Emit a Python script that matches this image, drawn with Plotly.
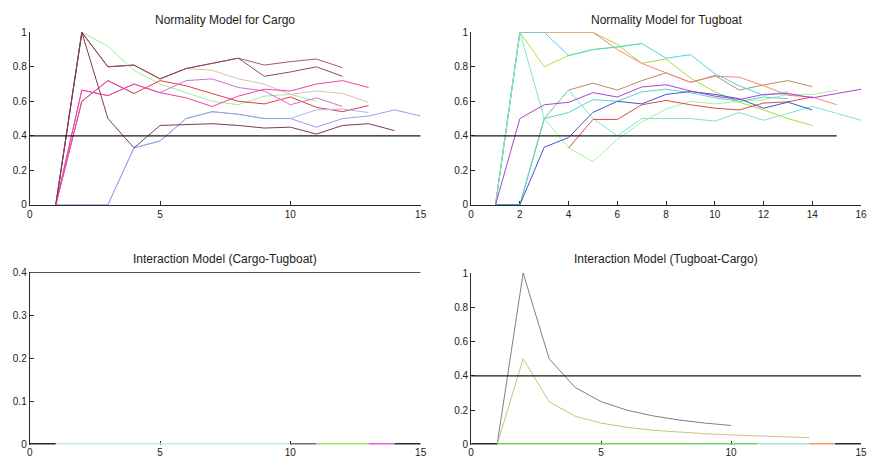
import plotly.graph_objects as go

# ---------------- data ----------------
titles = ["Normality Model for Cargo", "Normality Model for Tugboat",
          "Interaction Model (Cargo-Tugboat)", "Interaction Model (Tugboat-Cargo)"]
threshold = 0.4
threshold_x = [0, 15]

# Normality model for Cargo (x starts at 1)
cargo_green = [0, 1, 0.92, 0.78, 0.70, 0.65, 0.60, 0.58, 0.63, 0.64, 0.60]
cargo_plum = [0, 1, 0.50, 0.33, 0.46, 0.465, 0.47, 0.46, 0.445, 0.45, 0.41, 0.46, 0.47, 0.43]
cargo_lavender = [0, 0, 0, 0.33, 0.37, 0.50, 0.54, 0.525, 0.50, 0.50, 0.45, 0.50, 0.515, 0.55, 0.515]
cargo_skyblue = [0, 0, 0, 0.33, 0.37, 0.50, 0.54, 0.525, 0.50, 0.50, 0.55, 0.555, 0.535]
cargo_red = [0, 0.60, 0.72, 0.645, 0.72, 0.69, 0.645, 0.60, 0.585, 0.625, 0.565, 0.54, 0.575]
cargo_magenta = [0, 0.60, 0.72, 0.645]
cargo_tan = [0, 1, 0.80, 0.81, 0.73, 0.79, 0.78, 0.73, 0.70, 0.64, 0.66, 0.645, 0.595]
cargo_mauve = [0, 1, 0.80, 0.81, 0.73, 0.79, 0.82, 0.85, 0.81, 0.83, 0.845, 0.795]
cargo_brown = [0, 1, 0.80, 0.81, 0.73, 0.79, 0.82, 0.85, 0.745, 0.77, 0.80, 0.745]
cargo_hotpink = [0, 0.665, 0.633, 0.70, 0.65, 0.62, 0.57, 0.63, 0.67, 0.66, 0.70, 0.72, 0.68]
cargo_orchid = [0, 0.665, 0.633, 0.70, 0.65, 0.72, 0.73, 0.68, 0.66, 0.58, 0.62, 0.57]

# Normality model for Tugboat (x starts at 1 unless noted)
tug_tan = [0, 0, 0.50, 0.665, 0.705, 0.665, 0.72, 0.765, 0.71, 0.75, 0.665, 0.695, 0.72, 0.685]
tug_yellowgreen2 = [0, 1, 0.80, 0.866, 0.90, 0.915, 0.935]
tug_yellowgreen = [0, 1, 1, 1, 1, 0.93, 0.82, 0.845, 0.735, 0.655, 0.595, 0.55, 0.50, 0.46]
tug_salmon = [0, 1, 1, 1, 1, 0.90, 0.82, 0.765, 0.71, 0.745, 0.74, 0.69, 0.635, 0.625, 0.58]
tug_cyan = [0, 1, 1, 0.865, 0.90, 0.915, 0.935, 0.85, 0.87, 0.76, 0.69, 0.635, 0.655]
tug_lightgreen = [0, 0, 0.50, 0.33, 0.25, 0.38, 0.48, 0.555, 0.60, 0.585, 0.60, 0.61, 0.64, 0.64, 0.665]
tug_aqua = [0, 1, 0.50, 0.665, 0.50, 0.40, 0.50, 0.50, 0.50, 0.485, 0.535, 0.49, 0.53, 0.57, 0.53, 0.49]
tug_teal = [0, 0, 0.50, 0.535, 0.61, 0.60, 0.655, 0.67, 0.65, 0.62, 0.60, 0.625, 0.615]
tug_red_start = 4
tug_red = [0.33, 0.495, 0.495, 0.58, 0.605, 0.58, 0.56, 0.55, 0.59, 0.597, 0.625]
tug_blue = [0, 0, 0.334, 0.39, 0.536, 0.60, 0.585, 0.64, 0.657, 0.64, 0.615, 0.56, 0.595, 0.55]
tug_purple = [0, 0.50, 0.58, 0.594, 0.65, 0.625, 0.683, 0.696, 0.66, 0.63, 0.61, 0.64, 0.645, 0.62, 0.645, 0.67]

# Interaction model (Cargo-Tugboat): zero-valued runs
ct_zero_breaks = [0, 1, 10, 11, 13, 14, 15]
ct_zero_colors = ["#2A2A2A", "#C4ECF2", "#6E6E6E", "#98E46A", "#E060E0", "#2A2A2A"]

# Interaction model (Tugboat-Cargo)
tc_gray = [0, 1, 0.50, 0.333, 0.25, 0.20, 0.167, 0.143, 0.125, 0.111]
tc_olive = [0, 0.50, 0.25, 0.165, 0.125, 0.10, 0.083, 0.072, 0.063, 0.056, 0.05, 0.045, 0.04]
tc_zero_breaks = [0, 1, 11, 13, 14, 15]
tc_zero_colors = ["#2A2A2A", "#6ED45A", "#A0E6D0", "#F49A64", "#2A2A2A"]

# ---------------- figure ----------------
W, H = 876, 471
fig = go.Figure()


def add_line(vals, color, ax, start=1, width=1.0):
    xs = list(range(start, start + len(vals)))
    fig.add_trace(go.Scatter(x=xs, y=vals, mode="lines",
                             line=dict(color=color, width=width),
                             xaxis="x" + ax, yaxis="y" + ax,
                             cliponaxis=False, hoverinfo="skip", showlegend=False))


def add_xy(xs, ys, color, ax, width=1.0):
    fig.add_trace(go.Scatter(x=xs, y=ys, mode="lines",
                             line=dict(color=color, width=width),
                             xaxis="x" + ax, yaxis="y" + ax,
                             cliponaxis=False, hoverinfo="skip", showlegend=False))


# Cargo panel
add_line(cargo_green, "#A2EBA2", "")
add_line(cargo_red, "#E23C3C", "")
add_line(cargo_magenta, "#D850B8", "")
add_line(cargo_tan, "#DABEB2", "")
add_line(cargo_mauve, "#B25078", "")
add_line(cargo_brown, "#8E5050", "")
add_line(cargo_skyblue, "#A8B8F2", "")
add_line(cargo_lavender, "#9C9CF0", "")
add_line(cargo_orchid, "#D46CD4", "")
add_line(cargo_hotpink, "#F0449C", "")
add_line(cargo_plum, "#7A3A5E", "")
add_xy(threshold_x, [threshold, threshold], "#1A1A1A", "", 1.2)

# Tugboat panel
add_line(tug_tan, "#B88E5E", "2")
add_line(tug_yellowgreen2, "#B4E04C", "2")
add_line(tug_yellowgreen, "#A6DC30", "2")
add_line(tug_salmon, "#F4857A", "2")
add_line(tug_cyan, "#4CD8DA", "2")
add_line(tug_lightgreen, "#A8F0A0", "2")
add_line(tug_aqua, "#7CE8C4", "2")
add_line(tug_teal, "#5CD6C8", "2")
add_line(tug_red, "#E04848", "2", start=tug_red_start)
add_line(tug_blue, "#3A58D2", "2")
add_line(tug_purple, "#B040D2", "2")
add_xy(threshold_x, [threshold, threshold], "#1A1A1A", "2", 1.2)

# Interaction Cargo-Tugboat
for i, c in enumerate(ct_zero_colors):
    add_xy([ct_zero_breaks[i], ct_zero_breaks[i + 1]], [0, 0], c, "3", 3.2)
add_xy(threshold_x, [threshold, threshold], "#1A1A1A", "3", 1.2)

# Interaction Tugboat-Cargo
add_line(tc_gray, "#7E7E86", "4")
add_line(tc_olive, "#C8C47A", "4")
for i, c in enumerate(tc_zero_colors):
    add_xy([tc_zero_breaks[i], tc_zero_breaks[i + 1]], [0, 0], c, "4", 3.2)
add_xy(threshold_x, [threshold, threshold], "#1A1A1A", "4", 1.2)

FONT = "Arial, 'Liberation Sans', sans-serif"


def px_x(a, b):
    return [a / W, b / W]


def px_y(top, bottom):
    return [1 - bottom / H, 1 - top / H]


def axis_style(show_line=True):
    return dict(showline=show_line, linecolor="#2A2A2A", linewidth=1, ticks="inside",
                ticklen=4, tickcolor="#2A2A2A", tickwidth=1, showgrid=False,
                zeroline=False, mirror=False, layer="below traces",
                tickfont=dict(family=FONT, size=10, color="#222222"), fixedrange=True)


y01_ticks = dict(tickvals=[0, 0.2, 0.4, 0.6, 0.8, 1], ticktext=["0", "0.2", "0.4", "0.6", "0.8", "1"])

fig.update_layout(
    width=W, height=H, margin=dict(l=0, r=0, t=0, b=0),
    paper_bgcolor="white", plot_bgcolor="white", showlegend=False,
    xaxis=dict(domain=px_x(27, 422), range=[0, 15], tickvals=[0, 5, 10, 15], anchor="y", **axis_style()),
    yaxis=dict(domain=px_y(27, 204), range=[0, 1], anchor="x", **y01_ticks, **axis_style()),
    xaxis2=dict(domain=px_x(473, 867), range=[0, 16], tickvals=list(range(0, 17, 2)), anchor="y2", **axis_style()),
    yaxis2=dict(domain=px_y(27, 204), range=[0, 1], anchor="x2", **y01_ticks, **axis_style()),
    xaxis3=dict(domain=px_x(27, 422), range=[0, 15], tickvals=[0, 5, 10, 15], anchor="y3", **axis_style(False)),
    yaxis3=dict(domain=px_y(273, 450), range=[0, 0.4], anchor="x3",
                tickvals=[0, 0.1, 0.2, 0.3, 0.4], ticktext=["0", "0.1", "0.2", "0.3", "0.4"], **axis_style()),
    xaxis4=dict(domain=px_x(473, 867), range=[0, 15], tickvals=[0, 5, 10, 15], anchor="y4", **axis_style(False)),
    yaxis4=dict(domain=px_y(274, 450), range=[0, 1], anchor="x4", **y01_ticks, **axis_style()),
)

title_pos = [((27 + 422) / 2, 14), ((473 + 867) / 2, 14), ((27 + 422) / 2, 260), ((473 + 867) / 2, 260)]
for t, (cx, cy) in zip(titles, title_pos):
    fig.add_annotation(text=t, x=cx / W, y=1 - cy / H, xref="paper", yref="paper",
                       showarrow=False, xanchor="center", yanchor="middle",
                       font=dict(family=FONT, size=12, color="#222222"))

fig.write_html("out.html", config={"displayModeBar": False},
               post_script="document.body.style.margin='0';document.body.style.overflow='hidden';")
